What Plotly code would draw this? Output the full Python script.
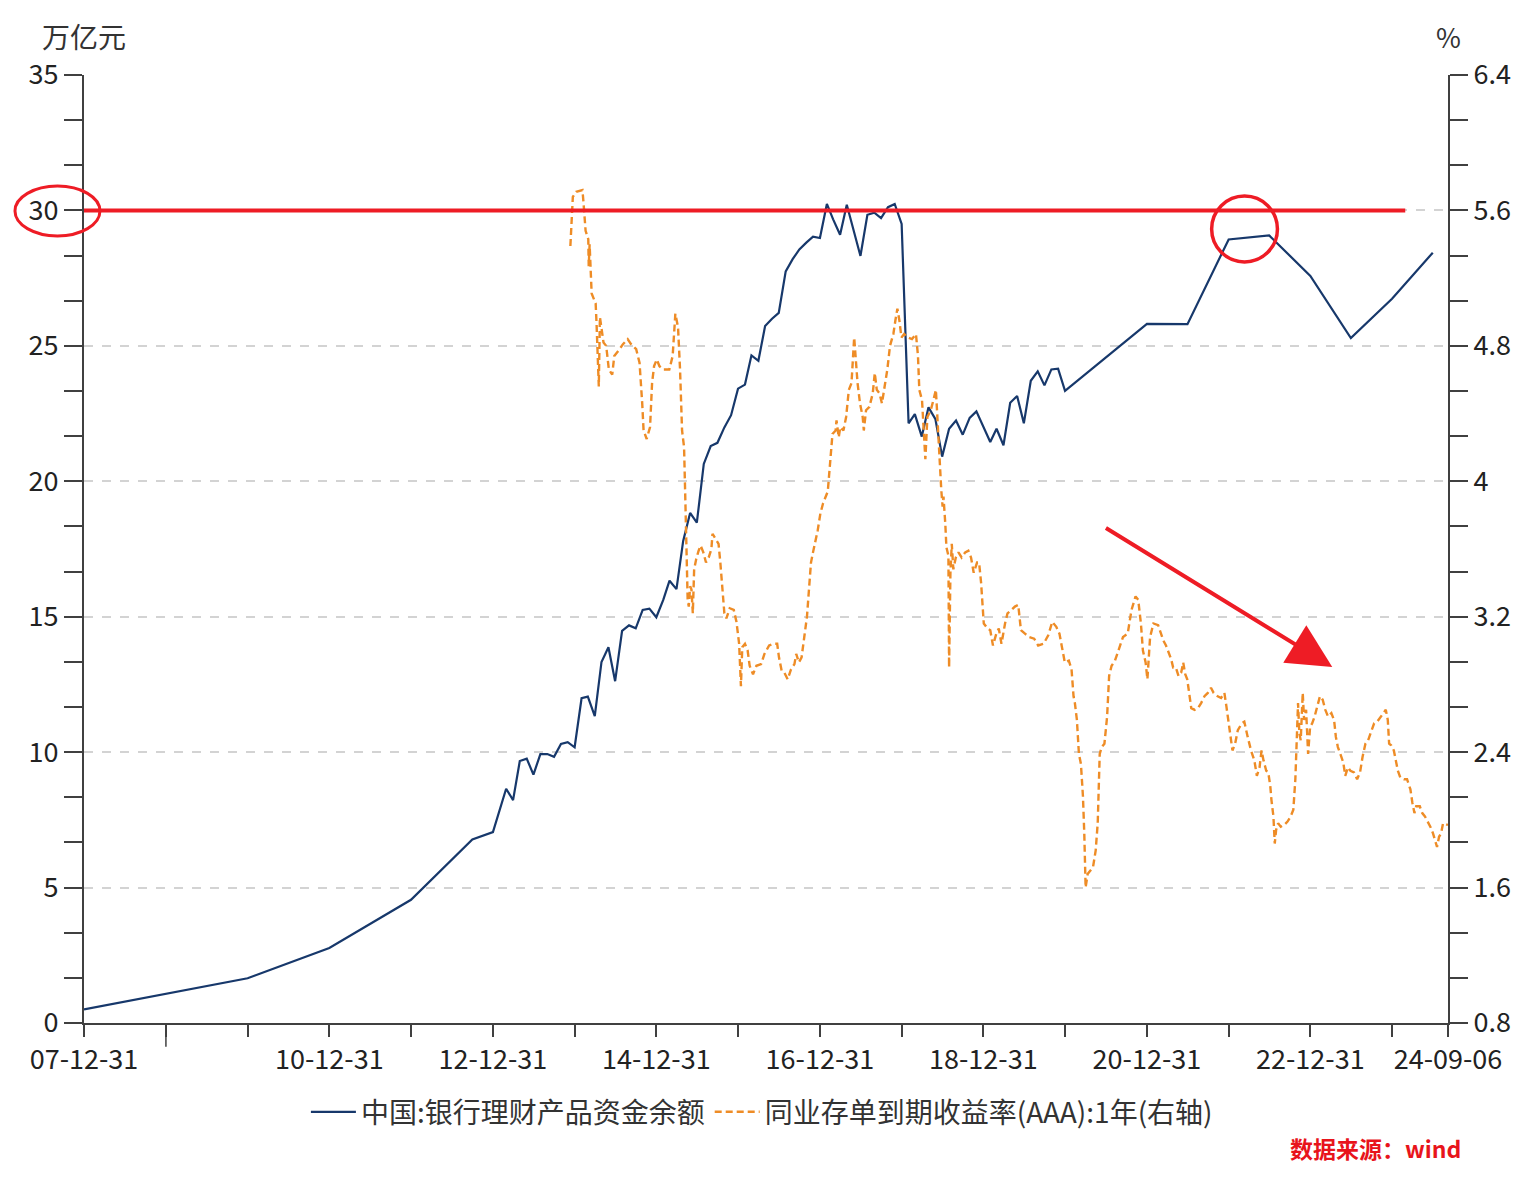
import plotly.graph_objects as go

# ---------------- data ----------------
wmp_dates = [
    "2007-12-31", "2009-12-31", "2010-12-31", "2011-12-31", "2012-09-30", "2012-12-31",
    "2013-02-28", "2013-03-31", "2013-04-30", "2013-05-31", "2013-06-30", "2013-07-31",
    "2013-08-31", "2013-09-30", "2013-10-31", "2013-11-30", "2013-12-31",
    "2014-01-31", "2014-02-28", "2014-03-31", "2014-04-30", "2014-05-31", "2014-06-30",
    "2014-07-31", "2014-08-31", "2014-09-30", "2014-10-31", "2014-11-30", "2014-12-31",
    "2015-01-31", "2015-02-28", "2015-03-31", "2015-04-30", "2015-05-31", "2015-06-30",
    "2015-07-31", "2015-08-31", "2015-09-30", "2015-10-31", "2015-11-30", "2015-12-31",
    "2016-01-31", "2016-02-29", "2016-03-31", "2016-04-30", "2016-05-31", "2016-06-30",
    "2016-07-31", "2016-08-31", "2016-09-30", "2016-10-31", "2016-11-30", "2016-12-31",
    "2017-01-31", "2017-02-28", "2017-03-31", "2017-04-30", "2017-05-31", "2017-06-30",
    "2017-07-31", "2017-08-31", "2017-09-30", "2017-10-31", "2017-11-30", "2017-12-31",
    "2018-01-31", "2018-02-28", "2018-03-31", "2018-04-30", "2018-05-31", "2018-06-30",
    "2018-07-31", "2018-08-31", "2018-09-30", "2018-10-31", "2018-11-30",
    "2019-01-31", "2019-02-28", "2019-03-31", "2019-04-30", "2019-05-31", "2019-06-30",
    "2019-07-31", "2019-08-31", "2019-09-30", "2019-10-31", "2019-11-30", "2019-12-31",
    "2020-12-31", "2021-06-30", "2021-12-31", "2022-06-30", "2022-12-31",
    "2023-06-30", "2023-12-31", "2024-06-30",
]
wmp_values = [
    0.50, 1.65, 2.77, 4.55, 6.78, 7.05,
    8.65, 8.23, 9.67, 9.76, 9.17, 9.93,
    9.93, 9.83, 10.30, 10.37, 10.18,
    11.99, 12.05, 11.33, 13.33, 13.87, 12.62,
    14.48, 14.68, 14.57, 15.25, 15.30, 14.98,
    15.62, 16.33, 16.02, 17.80, 18.83, 18.47,
    20.64, 21.30, 21.42, 21.99, 22.44, 23.42,
    23.57, 24.65, 24.45, 25.73, 26.00, 26.22,
    27.75, 28.20, 28.56, 28.81, 29.03, 28.98,
    30.24, 29.67, 29.10, 30.21, 29.30, 28.32,
    29.84, 29.92, 29.72, 30.12, 30.24, 29.50,
    22.14, 22.48, 21.65, 22.73, 22.29, 20.91,
    21.94, 22.24, 21.72, 22.34, 22.58,
    21.45, 21.94, 21.33, 22.90, 23.15, 22.14,
    23.71, 24.06, 23.54, 24.13, 24.16, 23.34,
    25.81, 25.80, 28.93, 29.08, 27.58,
    25.29, 26.74, 28.44,
]

ncd_dates = [
    "2013-12-12", "2013-12-23", "2014-01-07", "2014-02-04", "2014-02-09", "2014-02-18",
    "2014-03-02", "2014-03-04", "2014-03-08", "2014-03-17", "2014-03-29", "2014-04-04",
    "2014-04-08", "2014-04-18", "2014-04-23", "2014-04-30", "2014-05-09", "2014-05-21",
    "2014-06-02", "2014-06-17", "2014-06-26", "2014-07-14", "2014-08-04", "2014-08-25",
    "2014-09-09", "2014-10-02", "2014-10-17", "2014-10-29", "2014-11-04", "2014-11-18",
    "2014-12-03", "2014-12-12", "2014-12-21", "2015-01-02", "2015-01-14", "2015-02-01",
    "2015-02-27", "2015-03-14", "2015-03-26", "2015-04-07", "2015-04-16", "2015-04-25",
    "2015-05-04", "2015-05-10", "2015-05-15", "2015-05-20", "2015-05-25", "2015-05-31",
    "2015-06-06", "2015-06-12", "2015-06-18", "2015-06-27", "2015-07-08", "2015-07-17",
    "2015-07-29", "2015-08-10", "2015-08-22", "2015-09-03", "2015-09-08", "2015-09-23",
    "2015-10-05", "2015-10-13", "2015-10-22", "2015-10-31", "2015-11-09", "2015-11-24",
    "2015-12-12", "2015-12-24", "2016-01-05", "2016-01-11", "2016-01-13", "2016-01-19",
    "2016-01-31", "2016-02-12", "2016-02-21", "2016-03-07", "2016-03-22", "2016-04-12",
    "2016-04-27", "2016-05-18", "2016-06-08", "2016-06-23", "2016-07-01", "2016-07-13",
    "2016-07-25", "2016-08-09", "2016-08-24", "2016-09-08", "2016-09-16", "2016-09-28",
    "2016-10-10", "2016-10-22", "2016-11-03", "2016-11-12", "2016-11-21", "2016-11-30",
    "2016-12-12", "2016-12-21", "2017-01-02", "2017-01-14", "2017-02-04", "2017-02-18",
    "2017-02-25", "2017-03-11", "2017-03-15", "2017-03-25", "2017-04-01", "2017-04-15",
    "2017-04-27", "2017-05-09", "2017-05-21", "2017-06-02", "2017-06-07", "2017-06-17",
    "2017-06-28", "2017-07-10", "2017-07-15", "2017-07-25", "2017-08-09", "2017-08-24",
    "2017-09-02", "2017-09-11", "2017-09-23", "2017-10-04", "2017-10-16", "2017-10-28",
    "2017-11-09", "2017-11-24", "2017-12-03", "2017-12-12", "2017-12-21", "2017-12-30",
    "2018-01-11", "2018-01-26", "2018-02-15", "2018-03-05", "2018-03-14", "2018-03-20",
    "2018-04-01", "2018-04-10", "2018-04-16", "2018-04-25", "2018-05-10", "2018-05-22",
    "2018-06-02", "2018-06-07", "2018-06-17", "2018-06-26", "2018-07-02", "2018-07-06",
    "2018-07-14", "2018-07-19", "2018-07-28", "2018-07-31", "2018-08-06", "2018-08-12",
    "2018-08-19", "2018-08-30", "2018-09-11", "2018-09-25", "2018-10-11", "2018-10-25",
    "2018-11-06", "2018-11-18", "2018-12-03", "2018-12-12", "2018-12-21", "2019-01-02",
    "2019-01-19", "2019-01-31", "2019-02-12", "2019-02-27", "2019-03-10", "2019-03-22",
    "2019-04-07", "2019-04-18", "2019-05-06", "2019-05-21", "2019-06-05", "2019-06-17",
    "2019-07-05", "2019-07-23", "2019-08-15", "2019-09-02", "2019-09-26", "2019-10-17",
    "2019-11-04", "2019-11-22", "2019-12-06", "2019-12-21", "2019-12-30", "2020-01-17",
    "2020-01-29", "2020-02-07", "2020-02-13", "2020-02-22", "2020-03-02", "2020-03-11",
    "2020-03-20", "2020-03-26", "2020-04-01", "2020-04-10", "2020-04-22", "2020-05-04",
    "2020-05-16", "2020-05-25", "2020-06-03", "2020-06-12", "2020-06-24", "2020-07-06",
    "2020-07-15", "2020-07-26", "2020-08-10", "2020-08-28", "2020-09-15", "2020-10-06",
    "2020-10-23", "2020-11-10", "2020-11-22", "2020-12-04", "2020-12-13", "2020-12-25",
    "2021-01-02", "2021-01-14", "2021-01-29", "2021-02-19", "2021-02-27", "2021-03-14",
    "2021-03-26", "2021-04-07", "2021-04-18", "2021-04-27", "2021-05-09", "2021-05-21",
    "2021-06-02", "2021-06-11", "2021-06-20", "2021-06-29", "2021-07-08", "2021-07-17",
    "2021-08-01", "2021-08-16", "2021-08-30", "2021-09-14", "2021-09-29", "2021-10-13",
    "2021-10-25", "2021-11-12", "2021-11-27", "2021-12-12", "2021-12-21", "2021-12-30",
    "2022-01-08", "2022-01-17", "2022-01-29", "2022-02-10", "2022-02-28", "2022-03-11",
    "2022-03-26", "2022-04-10", "2022-04-25", "2022-05-06", "2022-05-18", "2022-05-27",
    "2022-06-05", "2022-06-17", "2022-06-26", "2022-07-05", "2022-07-10", "2022-07-19",
    "2022-07-25", "2022-07-31", "2022-08-09", "2022-08-21", "2022-09-05", "2022-09-20",
    "2022-10-04", "2022-10-16", "2022-10-25", "2022-10-31", "2022-11-06", "2022-11-12",
    "2022-11-18", "2022-11-27", "2022-12-03", "2022-12-12", "2022-12-21", "2022-12-30",
    "2023-01-08", "2023-01-19", "2023-01-31", "2023-02-12", "2023-02-24", "2023-03-08",
    "2023-03-20", "2023-04-04", "2023-04-16", "2023-04-24", "2023-05-03", "2023-05-15",
    "2023-05-27", "2023-06-05", "2023-06-17", "2023-06-28", "2023-07-14", "2023-07-28",
    "2023-08-10", "2023-08-21", "2023-09-03", "2023-09-15", "2023-09-26", "2023-10-12",
    "2023-10-26", "2023-11-10", "2023-11-25", "2023-12-03", "2023-12-12", "2023-12-18",
    "2023-12-27", "2024-01-08", "2024-01-17", "2024-01-26", "2024-02-06", "2024-02-22",
    "2024-03-07", "2024-03-22", "2024-03-31", "2024-04-09", "2024-04-17", "2024-05-03",
    "2024-05-14", "2024-05-26", "2024-06-07", "2024-06-19", "2024-07-01", "2024-07-10",
    "2024-07-19", "2024-07-28", "2024-08-06", "2024-08-15", "2024-09-06",
]
ncd_values = [
    5.39, 5.68, 5.71, 5.72, 5.64, 5.48,
    5.43, 5.27, 5.40, 5.11, 5.07, 5.05,
    4.93, 4.56, 4.97, 4.91, 4.82, 4.80,
    4.66, 4.63, 4.74, 4.77, 4.81, 4.84,
    4.81, 4.78, 4.70, 4.46, 4.30, 4.25,
    4.32, 4.58, 4.68, 4.72, 4.68, 4.66,
    4.66, 4.74, 4.99, 4.91, 4.66, 4.30,
    4.20, 3.87, 3.57, 3.30, 3.26, 3.38,
    3.36, 3.22, 3.48, 3.54, 3.59, 3.62,
    3.58, 3.52, 3.55, 3.60, 3.69, 3.66,
    3.63, 3.52, 3.36, 3.22, 3.19, 3.25,
    3.24, 3.17, 3.04, 2.87, 2.79, 3.02,
    3.04, 3.00, 2.91, 2.86, 2.91, 2.92,
    2.98, 3.03, 3.04, 3.04, 2.96, 2.88,
    2.87, 2.83, 2.89, 2.92, 2.98, 2.93,
    2.96, 3.08, 3.20, 3.36, 3.52, 3.58,
    3.65, 3.71, 3.81, 3.87, 3.94, 4.20,
    4.28, 4.30, 4.36, 4.26, 4.32, 4.30,
    4.38, 4.54, 4.58, 4.85, 4.74, 4.58,
    4.46, 4.38, 4.30, 4.42, 4.44, 4.52,
    4.64, 4.54, 4.52, 4.46, 4.56, 4.66,
    4.80, 4.87, 4.95, 5.02, 4.95, 4.85,
    4.87, 4.85, 4.84, 4.87, 4.74, 4.54,
    4.48, 4.30, 4.13, 4.38, 4.42, 4.48,
    4.54, 4.42, 4.15, 3.95, 3.85, 3.91,
    3.75, 3.61, 3.56, 2.90, 3.46, 3.63,
    3.48, 3.55, 3.58, 3.55, 3.58, 3.59,
    3.55, 3.46, 3.52, 3.52, 3.40, 3.16,
    3.13, 3.12, 3.03, 3.10, 3.13, 3.04,
    3.16, 3.22, 3.24, 3.26, 3.27, 3.12,
    3.10, 3.08, 3.07, 3.03, 3.04, 3.09,
    3.17, 3.14, 3.10, 2.98, 2.93, 2.94,
    2.89, 2.73, 2.69, 2.59, 2.39, 2.33,
    2.14, 1.92, 1.60, 1.68, 1.70, 1.72,
    1.82, 1.98, 2.39, 2.43, 2.45, 2.61,
    2.85, 2.91, 2.94, 3.01, 3.08, 3.10,
    3.24, 3.32, 3.30, 3.16, 3.00, 2.93,
    2.83, 3.08, 3.16, 3.15, 3.12, 3.06,
    3.03, 2.99, 2.95, 2.90, 2.90, 2.85,
    2.87, 2.93, 2.86, 2.83, 2.73, 2.66,
    2.65, 2.66, 2.69, 2.73, 2.75, 2.78,
    2.75, 2.73, 2.72, 2.75, 2.67, 2.59,
    2.49, 2.41, 2.45, 2.53, 2.57, 2.58,
    2.49, 2.41, 2.35, 2.26, 2.31, 2.41,
    2.35, 2.29, 2.28, 2.20, 2.12, 2.02,
    1.86, 1.94, 1.98, 1.96, 1.97, 1.99,
    2.02, 2.06, 2.24, 2.47, 2.69, 2.51,
    2.47, 2.75, 2.59, 2.65, 2.39, 2.55,
    2.57, 2.61, 2.67, 2.73, 2.71, 2.65,
    2.61, 2.63, 2.59, 2.49, 2.43, 2.39,
    2.34, 2.26, 2.31, 2.29, 2.28, 2.24,
    2.28, 2.37, 2.45, 2.47, 2.51, 2.57,
    2.58, 2.61, 2.64, 2.65, 2.59, 2.45,
    2.44, 2.41, 2.35, 2.29, 2.25, 2.24,
    2.24, 2.18, 2.10, 2.04, 2.08, 2.08,
    2.04, 2.02, 1.99, 1.96, 1.92, 1.88,
    1.84, 1.90, 1.92, 1.98, 1.97,
]

x_tick_vals = ["2007-12-31", "2008-12-31", "2009-12-31", "2010-12-31", "2011-12-31",
               "2012-12-31", "2013-12-31", "2014-12-31", "2015-12-31", "2016-12-31",
               "2017-12-31", "2018-12-31", "2019-12-31", "2020-12-31", "2021-12-31",
               "2022-12-31", "2023-12-31", "2024-09-06"]
x_tick_text = ["07-12-31", "", "", "10-12-31", "", "12-12-31", "", "14-12-31", "",
               "16-12-31", "", "18-12-31", "", "20-12-31", "", "22-12-31", "", "24-09-06"]

series_names = ["中国:银行理财产品资金余额", "同业存单到期收益率(AAA):1年(右轴)"]

# ---------------- figure ----------------
FONT = "Noto Sans CJK SC, Noto Sans, sans-serif"
AXIS_C = "#404040"
RED = "#EE1C25"

fig = go.Figure()
fig.add_trace(go.Scatter(
    x=wmp_dates, y=wmp_values, name=series_names[0], mode="lines",
    line=dict(color="#17386B", width=2.2), yaxis="y"))
fig.add_trace(go.Scatter(
    x=ncd_dates, y=ncd_values, name=series_names[1], mode="lines",
    line=dict(color="#EE8C26", width=2.4, dash="7px,4px"), yaxis="y2"))

TICKFONT = dict(size=27, color="#222222", family=FONT)

fig.update_layout(
    width=1513, height=1201,
    margin=dict(l=84, r=65, t=75, b=178, autoexpand=False),
    paper_bgcolor="white", plot_bgcolor="white",
    font=dict(family=FONT, size=25, color="#222222"),
    showlegend=True,
    legend=dict(orientation="h", x=0.497, xanchor="center", y=-0.094, yanchor="middle",
                font=dict(size=28, color="#333333", family=FONT), itemwidth=45,
                bgcolor="rgba(0,0,0,0)", traceorder="normal"),
    xaxis=dict(
        type="date", range=["2007-12-31", "2024-09-06"],
        tickmode="array", tickvals=x_tick_vals, ticktext=x_tick_text,
        ticks="outside", ticklen=12, tickwidth=1.5, tickcolor=AXIS_C,
        showline=True, linecolor=AXIS_C, linewidth=2, showgrid=False, zeroline=False,
        tickfont=TICKFONT,
    ),
    yaxis=dict(
        range=[0, 35], tick0=0, dtick=5,
        ticks="outside", ticklen=18, tickwidth=1.5, tickcolor=AXIS_C,
        minor=dict(dtick=5 / 3, ticks="outside", ticklen=18, tickwidth=1.5,
                   tickcolor=AXIS_C, showgrid=False),
        showline=True, linecolor=AXIS_C, linewidth=2,
        showgrid=True, gridcolor="#D3D3D3", gridwidth=1.5, griddash="dash",
        zeroline=False, tickfont=TICKFONT,
    ),
    yaxis2=dict(
        range=[0.8, 6.4], tick0=0.8, dtick=0.8, overlaying="y", side="right",
        ticks="outside", ticklen=18, tickwidth=1.5, tickcolor=AXIS_C,
        minor=dict(dtick=0.8 / 3, ticks="outside", ticklen=18, tickwidth=1.5,
                   tickcolor=AXIS_C, showgrid=False),
        showline=True, linecolor=AXIS_C, linewidth=2, showgrid=False, zeroline=False,
        tickfont=TICKFONT,
    ),
)

# longer tick under 2008-12-31
fig.add_shape(type="line", xref="x", yref="paper", x0="2008-12-31", x1="2008-12-31",
              y0=0, y1=-0.025, line=dict(color=AXIS_C, width=1.5))

# red highlight: horizontal line at 30
fig.add_shape(type="line", xref="x", yref="y", x0="2007-12-31", x1="2024-02-28",
              y0=30, y1=30, line=dict(color=RED, width=4))
# ellipse around the "30" tick label
fig.add_shape(type="circle", xref="paper", yref="y", x0=-0.0506, x1=0.0117,
              y0=29.06, y1=30.9, line=dict(color=RED, width=3))
# circle around the 2021-2022 peak
fig.add_shape(type="circle", xref="x", yref="y", x0="2021-10-16", x1="2022-08-06",
              y0=28.1, y1=30.53, line=dict(color=RED, width=3.5))
# red arrow
fig.add_annotation(x="2023-04-08", y=13.14, ax="2020-06-24", ay=18.31,
                   xref="x", yref="y", axref="x", ayref="y", text="",
                   showarrow=True, arrowhead=2, arrowsize=2.2, arrowwidth=4,
                   arrowcolor=RED, standoff=0)

# axis unit labels
fig.add_annotation(text="万亿元", xref="paper", yref="paper", x=0.0, y=1.041,
                   xanchor="center", yanchor="middle", showarrow=False,
                   font=dict(size=28, color="#333333", family=FONT))
fig.add_annotation(text="%", xref="paper", yref="paper", x=1.0, y=1.041,
                   xanchor="center", yanchor="middle", showarrow=False,
                   font=dict(size=27, color="#333333", family=FONT))
# source note
fig.add_annotation(text="<b>数据来源：wind</b>", xref="paper", yref="paper",
                   x=0.947, y=-0.132, xanchor="center", yanchor="middle",
                   showarrow=False, font=dict(size=23, color="#E8141B", family=FONT))

fig.write_html("out.html",
               config={"displayModeBar": False},
               post_script="document.body.style.margin='0px';"
                           "document.body.style.overflow='hidden';")
